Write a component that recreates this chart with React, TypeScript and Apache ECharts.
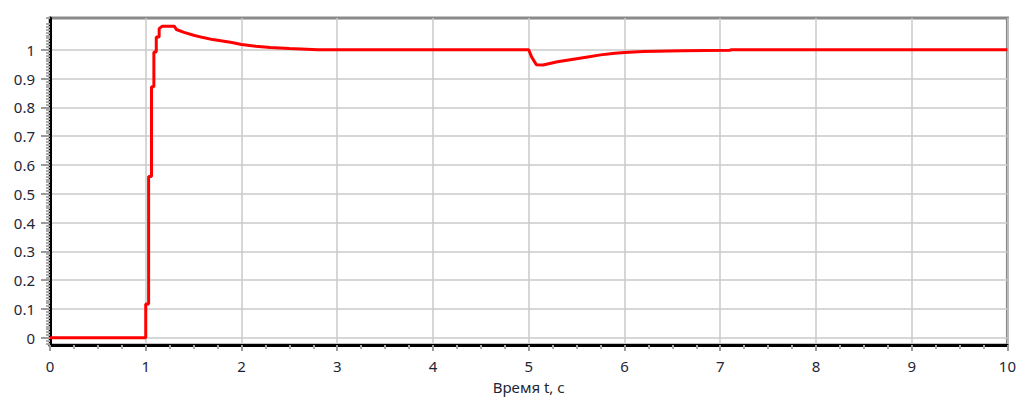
import React, { useEffect, useRef } from "react";
import * as echarts from "echarts";

const timeValues = [
  0, 1.0, 1.0, 1.03, 1.03, 1.06, 1.06, 1.085, 1.085, 1.11, 1.11, 1.14, 1.14, 1.17, 1.3,
  1.32, 1.4, 1.5, 1.6, 1.7, 1.8, 1.9, 2.0, 2.15, 2.3, 2.5, 2.8,
  5.0, 5.03, 5.08, 5.15, 5.3, 5.45, 5.6, 5.75, 5.9, 6.0, 6.2, 6.6, 7.1, 7.12, 10,
];
const responseValues = [
  0, 0, 0.117, 0.117, 0.56, 0.56, 0.871, 0.871, 0.992, 0.992, 1.044, 1.044, 1.073, 1.081, 1.081,
  1.07, 1.06, 1.05, 1.042, 1.035, 1.03, 1.025, 1.018, 1.012, 1.008, 1.004, 1.0,
  1.0, 0.975, 0.948, 0.947, 0.958, 0.966, 0.974, 0.982, 0.988, 0.99, 0.994, 0.996, 0.998, 1.0, 1.0,
];
const yTickValues = [0, 0.1, 0.2, 0.3, 0.4, 0.5, 0.6, 0.7, 0.8, 0.9, 1];
const yTickLabels = ["0", "0.1", "0.2", "0.3", "0.4", "0.5", "0.6", "0.7", "0.8", "0.9", "1"];
const xAxisTitle = "Время t, с";

const Y_MIN = -0.025;
const Y_MAX = 1.11;

export default function App() {
  const ref = useRef<HTMLDivElement>(null);
  useEffect(() => {
    if (!ref.current) return;
    const chart = echarts.init(ref.current, null, { renderer: "svg" });
    const minorY: number[] = [];
    for (let i = -2; i <= 111; i++) {
      if (i % 10 !== 0) minorY.push(Math.round(i) / 100);
    }
    const font = "Noto Sans, DejaVu Sans, sans-serif";
    chart.setOption({
      animation: false,
      backgroundColor: "#ffffff",
      grid: {
        left: 50,
        right: 7,
        top: 18,
        bottom: 53,
        show: true,
        borderColor: "#8a8a8a",
        borderWidth: 3,
        backgroundColor: "#ffffff",
      },
      xAxis: {
        type: "value",
        min: 0,
        max: 10,
        interval: 1,
        name: xAxisTitle,
        nameLocation: "middle",
        nameGap: 34,
        nameTextStyle: { fontSize: 15, color: "#1e2636", fontFamily: font },
        axisLine: { show: true, onZero: false, lineStyle: { color: "#000", width: 3 } },
        axisTick: { show: true, length: 6, lineStyle: { color: "#9a9a9a", width: 2 } },
        minorTick: { show: true, splitNumber: 4, length: 4, lineStyle: { color: "#a8a8a8", width: 2 } },
        axisLabel: { fontSize: 15, color: "#1e2636", fontFamily: font, margin: 13, formatter: (v: number) => String(v) },
        splitLine: { show: true, lineStyle: { color: "#cacaca", width: 1.5 } },
      },
      yAxis: [
        {
          type: "value",
          min: Y_MIN,
          max: Y_MAX,
          axisLine: { show: true, onZero: false, lineStyle: { color: "#000", width: 3 } },
          axisTick: { show: true, length: 9, customValues: yTickValues, lineStyle: { color: "#9a9a9a", width: 2 } },
          axisLabel: {
            show: true,
            customValues: yTickValues,
            fontSize: 15,
            color: "#1e2636",
            fontFamily: font,
            margin: 15,
            formatter: (v: number) => {
              const idx = yTickValues.findIndex((t) => Math.abs(t - v) < 1e-6);
              return idx >= 0 ? yTickLabels[idx] : "";
            },
          },
          splitLine: { show: true, lineStyle: { color: "#cacaca", width: 1.5 } },
        },
        {
          type: "value",
          min: Y_MIN,
          max: Y_MAX,
          position: "left",
          axisLine: { show: false },
          axisTick: { show: true, length: 4, inside: false, customValues: minorY, lineStyle: { color: "#a8a8a8", width: 2 } },
          axisLabel: { show: false },
          splitLine: { show: false },
        },
      ],
      series: [
        {
          type: "line",
          data: timeValues.map((t, i) => [t, responseValues[i]]),
          showSymbol: false,
          symbol: "none",
          lineStyle: { color: "#ff0000", width: 3 },
          clip: true,
        },
      ],
    });
    return () => chart.dispose();
  }, []);
  return <div ref={ref} style={{ width: 1019, height: 399, position: "absolute", left: 0, top: 0 }} />;
}
